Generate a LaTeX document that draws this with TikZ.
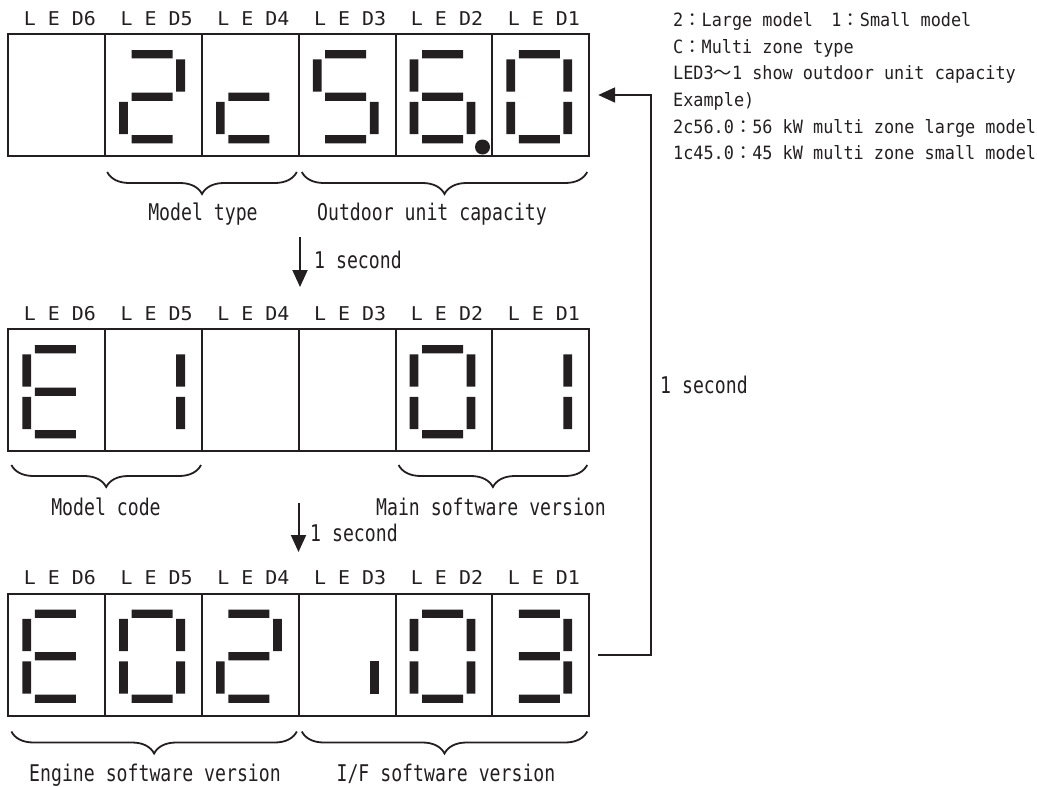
\documentclass[tikz,border=0pt]{standalone}
\usepackage{fontspec}
\usepackage{tikz}
\usetikzlibrary{arrows.meta,positioning,calc,decorations.pathreplacing}
\newfontfamily\lblfont[FakeStretch=0.79]{DejaVu Sans Mono}
\newfontfamily\notefont[FakeStretch=0.92]{DejaVu Sans Mono}
\newfontfamily\ledfont[FakeStretch=1.05]{DejaVu Sans Mono}
\newfontfamily\cjkfont{Noto Sans CJK JP}
\definecolor{Ink}{HTML}{231F20}

\begin{document}
\begin{tikzpicture}[x=1pt,y=-1pt,
    cell/.style={rectangle,draw=Ink,line width=2pt,minimum width=96.8pt,minimum height=122pt,inner sep=0pt,outer sep=0pt},
    ledname/.style={anchor=base,inner sep=0pt,text=Ink,font=\ledfont\fontsize{19}{22}\selectfont},
    lbl/.style={anchor=base,inner sep=0pt,text=Ink,font=\lblfont\fontsize{23}{27}\selectfont},
    note/.style={anchor=base west,inner sep=0pt,text=Ink,font=\notefont\fontsize{18.3}{22}\selectfont},
    bracegrp/.style={draw=Ink,line width=1.8pt,decorate,decoration={brace,mirror,amplitude=22pt}},
    arrow/.style={draw=Ink,line width=2pt,-{Triangle[length=17pt,width=15pt]}},
    lit/.style={fill=Ink},
    seg a/.style={insert path={(-22,-45) rectangle (19,-36.6)}},
    seg b/.style={insert path={(22.6,-35.7) rectangle (31.4,-3.3)}},
    seg c/.style={insert path={(22.6,6.8) rectangle (31.4,39.2)}},
    seg d/.style={insert path={(-22,40) rectangle (19,48.4)}},
    seg e/.style={insert path={(-34.4,6.8) rectangle (-25.7,39.2)}},
    seg f/.style={insert path={(-34.4,-35.7) rectangle (-25.7,-3.3)}},
    seg g/.style={insert path={(-22,-2.5) rectangle (19,5.9)}}
]
\useasboundingbox (0,0) rectangle (1037,787);

% three rows of six LED cells
\foreach \p/\ytop in {1/34,2/329,3/593.5}{
  \foreach \k in {1,...,6}{
    \node[cell] (p\p-\k) at ({8.4+(6.5-\k)*96.8},{\ytop+61}) {};
    \node[ledname] (p\p-n\k) at ({11.4+(6.5-\k)*96.8},{\ytop-9}) {L E D\k};
  }
}

% row 1: 2c56.0
\fill[lit,shift={(p1-5.center)},seg a,seg b,seg g,seg e,seg d];
\fill[lit,shift={(p1-4.center)},seg g,seg e,seg d];
\fill[lit,shift={(p1-3.center)},seg a,seg f,seg g,seg c,seg d];
\fill[lit,shift={(p1-2.center)},seg a,seg f,seg g,seg e,seg c,seg d];
\fill[lit] ([shift={(38.5,52)}]p1-2.center) circle (7.5);
\fill[lit,shift={(p1-1.center)},seg a,seg b,seg c,seg d,seg e,seg f];

% row 2: E1  01
\fill[lit,shift={(p2-6.center)},seg a,seg f,seg g,seg e,seg d];
\fill[lit,shift={(p2-5.center)},seg b,seg c];
\fill[lit,shift={(p2-2.center)},seg a,seg b,seg c,seg d,seg e,seg f];
\fill[lit,shift={(p2-1.center)},seg b,seg c];

% row 3: E02.03
\fill[lit,shift={(p3-6.center)},seg a,seg f,seg g,seg e,seg d];
\fill[lit,shift={(p3-5.center)},seg a,seg b,seg c,seg d,seg e,seg f];
\fill[lit,shift={(p3-4.center)},seg a,seg b,seg g,seg e,seg d];
\fill[lit,shift={(p3-3.center)},seg c];
\fill[lit,shift={(p3-2.center)},seg a,seg b,seg c,seg d,seg e,seg f];
\fill[lit,shift={(p3-1.center)},seg a,seg b,seg g,seg c,seg d];

% braces
\draw[bracegrp] ([xshift=2pt,yshift=-16pt]p1-5.south west) -- ([xshift=-2pt,yshift=-16pt]p1-4.south east);
\draw[bracegrp] ([xshift=3pt,yshift=-16pt]p1-3.south west) -- ([xshift=-2pt,yshift=-16pt]p1-1.south east);
\draw[bracegrp] ([xshift=3pt,yshift=-14pt]p2-6.south west) -- ([xshift=-1pt,yshift=-14pt]p2-5.south east);
\draw[bracegrp] ([xshift=3pt,yshift=-14pt]p2-2.south west) -- ([xshift=-2pt,yshift=-14pt]p2-1.south east);
\draw[bracegrp] ([xshift=3pt,yshift=-16pt]p3-6.south west) -- ([xshift=-2pt,yshift=-16pt]p3-4.south east);
\draw[bracegrp] ([xshift=3pt,yshift=-16pt]p3-3.south west) -- ([xshift=-2pt,yshift=-16pt]p3-1.south east);

\node[lbl] (mtype) at (203,220) {Model type};
\node[lbl] (ocap) at (432,220) {Outdoor unit capacity};
\node[lbl] (mcode) at (106,515) {Model code};
\node[lbl] (mainsw) at (491,515) {Main software version};
\node[lbl] (engsw) at (155,781) {Engine software version};
\node[lbl] (ifsw) at (446,781) {I/F software version};

% one second steps
\coordinate (d1s) at (300,237);
\coordinate (d1e) at (300,287);
\draw[arrow] (d1s) -- (d1e);
\node[lbl,anchor=base west] (sec1) at (314,268) {1 second};
\coordinate (d2s) at (298.5,503);
\coordinate (d2e) at (298.5,552);
\draw[arrow] (d2s) -- (d2e);
\node[lbl,anchor=base west] (sec2) at (310,541.7) {1 second};
\draw[arrow] ([xshift=9pt]p3-1.east) -- ++(53,0) |- ([xshift=9pt]p1-1.east);
\node[lbl,anchor=base west] (sec3) at (660,393) {1 second};

% notes
\node[note] (n1) at (673,26.7) {2{\cjkfont ：}Large model{\cjkfont 　}1{\cjkfont ：}Small model};
\node[note] (n2) at (673,53.3) {C{\cjkfont ：}Multi zone type};
\node[note] (n3) at (673,79.9) {LED3{\cjkfont ～}1 show outdoor unit capacity};
\node[note] (n4) at (673,106.5) {Example)};
\node[note] (n5) at (673,133.1) {2c56.0{\cjkfont ：}56 kW multi zone large model};
\node[note] (n6) at (673,159.7) {1c45.0{\cjkfont ：}45 kW multi zone small model};
\end{tikzpicture}
\end{document}
